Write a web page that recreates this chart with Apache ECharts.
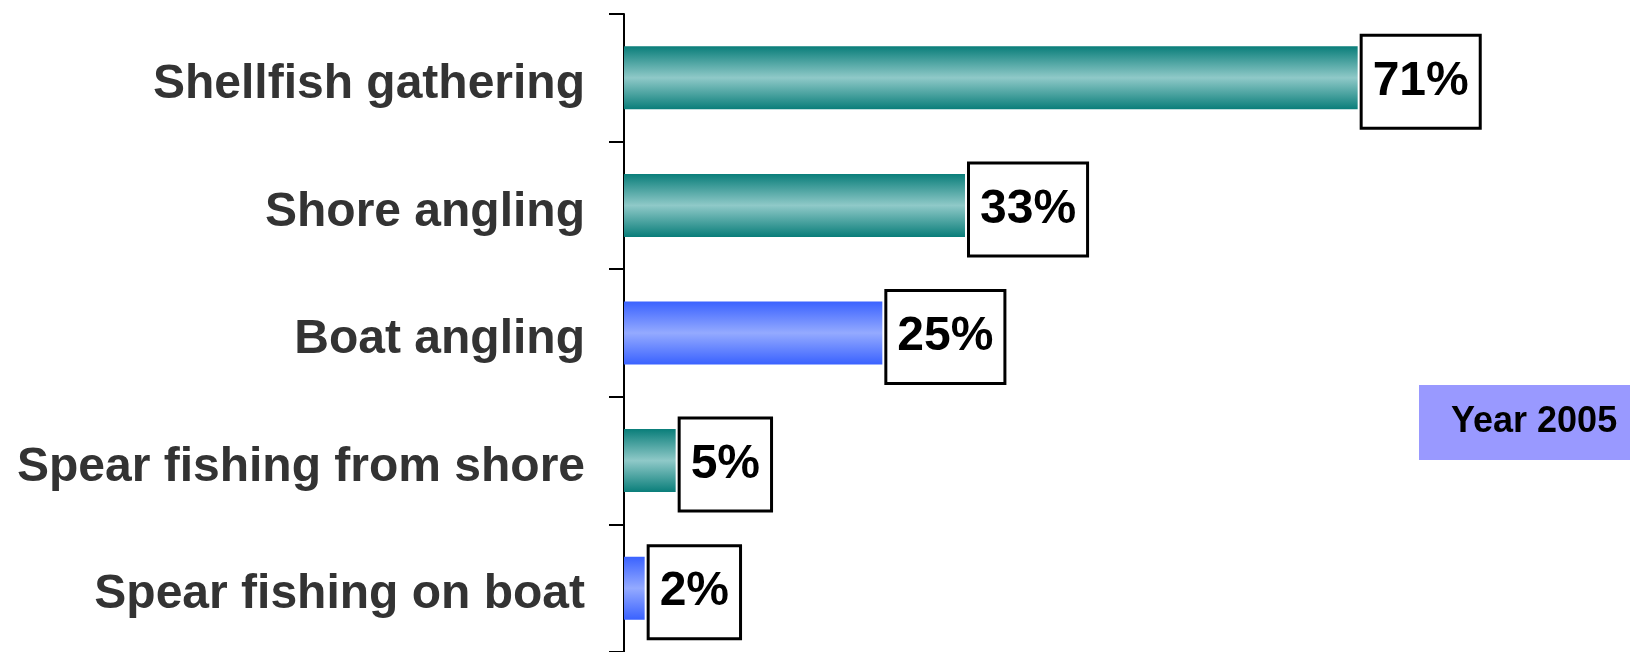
<!DOCTYPE html>
<html>
<head>
<meta charset="utf-8">
<script src="https://cdn.jsdelivr.net/npm/echarts@6/dist/echarts.min.js"></script>
<style>
  html, body { margin: 0; padding: 0; background: #fff; }
  #chart { width: 1630px; height: 652px; }
</style>
</head>
<body>
<div id="chart"></div>
<script>
// categories, top to bottom
const categories = [
  'Shellfish gathering',
  'Shore angling',
  'Boat angling',
  'Spear fishing from shore',
  'Spear fishing on boat'
];
// share of respondents (%)
const values = [71, 33, 25, 5, 2];
// which group each activity belongs to
const platform = ['shore', 'shore', 'boat', 'shore', 'boat'];
const yearLabel = 'Year 2005';

const font = "'Liberation Sans', Arial, sans-serif";

// gradient fill for bars
const grad = (edge, mid) => new echarts.graphic.LinearGradient(0, 0, 0, 1, [
  { offset: 0, color: edge },
  { offset: 0.5, color: mid },
  { offset: 1, color: edge }
]);

const pick = (group) => values.map((v, i) => (platform[i] === group ? v : '-'));

const label = {
  show: true,
  position: 'right',
  distance: 5,
  offset: [0, 4],
  formatter: '{c}%',
  color: '#000',
  fontFamily: font,
  fontWeight: 'bold',
  fontSize: 48,
  backgroundColor: '#fff',
  borderColor: '#000',
  borderWidth: 3,
  padding: [25, 10, 17, 10]
};

const chart = echarts.init(document.getElementById('chart'));
chart.setOption({
  animation: false,
  grid: { left: 624, top: 14, width: 930, height: 641 },
  xAxis: { type: 'value', min: 0, max: 90, show: false },
  yAxis: {
    type: 'category',
    inverse: true,
    data: categories,
    axisLine: { lineStyle: { color: '#000', width: 2 } },
    axisTick: { show: true, length: 15, lineStyle: { color: '#000', width: 2 } },
    axisLabel: {
      margin: 39,
      formatter: '{t|{value}}',
      rich: {
        t: {
          color: '#333',
          fontFamily: font,
          fontWeight: 'bold',
          fontSize: 48,
          padding: [14, 0, 0, 0]
        }
      }
    }
  },
  series: [
    {
      name: 'shore',
      type: 'bar',
      stack: 'all',
      barWidth: 63,
      data: pick('shore'),
      itemStyle: { color: grad('#0a7e7a', '#8fc9c8') },
      label: label
    },
    {
      name: 'boat',
      type: 'bar',
      stack: 'all',
      barWidth: 63,
      data: pick('boat'),
      itemStyle: { color: grad('#3a62ff', '#94aaff') },
      label: label
    }
  ],
  graphic: [
    {
      type: 'rect',
      left: 1419,
      top: 385,
      shape: { width: 220, height: 75 },
      style: { fill: '#9999ff' }
    },
    {
      type: 'text',
      left: 1451,
      top: 404,
      style: {
        text: yearLabel,
        fill: '#000',
        font: 'bold 36px ' + font
      }
    }
  ]
});
</script>
</body>
</html>
